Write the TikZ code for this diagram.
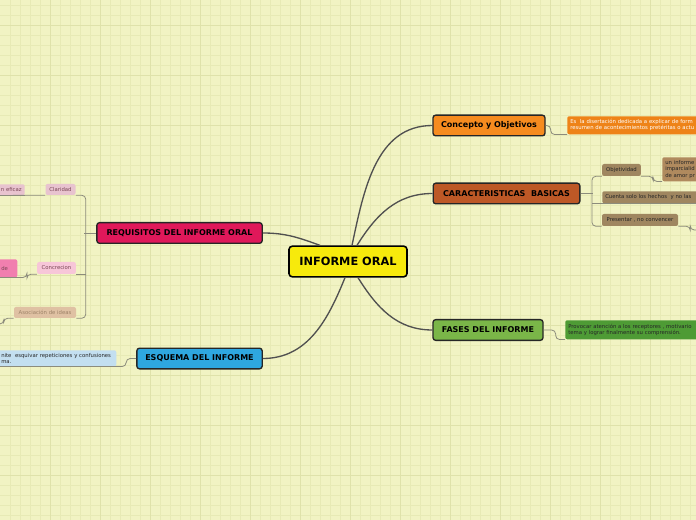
\documentclass[tikz,border=0pt]{standalone}
\usepackage{fontspec}
\setmainfont{DejaVu Sans}
\usepackage{xcolor}
\usepackage{tikz}

\definecolor{paper}{HTML}{F1F3C3}
\definecolor{gridthin}{HTML}{E7EAB5}
\definecolor{gridthick}{HTML}{DFE2AA}
\definecolor{centre}{HTML}{F7EA0C}
\definecolor{orangeA}{HTML}{F68B1F}
\definecolor{orangeB}{HTML}{EE8318}
\definecolor{brownA}{HTML}{BD5826}
\definecolor{tanA}{HTML}{9F8660}
\definecolor{tanB}{HTML}{B08A5E}
\definecolor{greenA}{HTML}{7AB648}
\definecolor{greenB}{HTML}{4E9B35}
\definecolor{crimson}{HTML}{E0185A}
\definecolor{pinkA}{HTML}{E8C3CF}
\definecolor{pinkB}{HTML}{F7C6D8}
\definecolor{pinkC}{HTML}{F17FAF}
\definecolor{sand}{HTML}{DFC1A3}
\definecolor{blueA}{HTML}{2EA7E0}
\definecolor{blueB}{HTML}{C3DFF0}
\definecolor{linkgray}{HTML}{505050}
\definecolor{twiggray}{HTML}{8C8C7C}
\definecolor{mauve}{HTML}{7A4656}

\begin{document}
\begin{tikzpicture}[x=0.75pt,y=-0.75pt,
  root/.style={draw=black, line width=1.2pt, rounded corners=2.5pt, fill=centre,
    font=\bfseries\fontsize{8.5}{10}\selectfont, inner sep=0pt,
    minimum width=88.5pt, minimum height=23pt},
  topic/.style={draw=black!85, line width=1pt, rounded corners=2pt,
    font=\bfseries\fontsize{6}{7}\selectfont, inner sep=0pt, minimum height=15.5pt},
  leaf/.style={rounded corners=1.5pt, inner xsep=2.25pt, inner ysep=0pt,
    font=\fontsize{4}{4.7}\selectfont, align=left},
  link/.style={draw=linkgray, line width=1pt},
  twig/.style={draw=twiggray, line width=0.6pt, rounded corners=3pt}]

\useasboundingbox (0,0) rectangle (696,520);
\clip (0,0) rectangle (696,520);

% paper and grid
\fill[paper] (0,0) rectangle (696,520);
\foreach \x in {10,20,...,690} \draw[gridthin, line width=0.35pt] (\x,0) -- (\x,520);
\foreach \y in {5,15,...,515} \draw[gridthin, line width=0.35pt] (0,\y) -- (696,\y);
\foreach \x in {50,100,...,650} \draw[gridthick, line width=0.5pt] (\x,0) -- (\x,520);
\foreach \y in {25,75,...,525} \draw[gridthick, line width=0.5pt] (0,\y) -- (696,\y);

% centre and main topics
\node[root] (c) at (348,261.5) {INFORME ORAL};
\node[topic, fill=orangeA, minimum width=84pt] (con) at (489,125.5) {Concepto y Objetivos};
\node[topic, fill=brownA, minimum width=110pt] (car) at (506.5,193.5) {CARACTERISTICAS\ \ BASICAS};
\node[topic, fill=greenA, minimum width=82.5pt] (fas) at (488,330) {FASES DEL INFORME};
\node[topic, fill=crimson, minimum width=124pt] (req) at (179.5,233) {REQUISITOS DEL INFORME ORAL};
\node[topic, fill=blueA, minimum width=94pt] (esq) at (199.5,358.5) {ESQUEMA DEL INFORME};

% leaves on the right
\node[leaf, fill=orangeB, text=white, anchor=north west, text width=160pt, minimum height=13.5pt] (def) at (567,116)
  {Es\ \ la disertación dedicada a explicar de form\\resumen de acontecimientos pretéritas o actu};
\node[leaf, fill=tanA, text=black!85, minimum width=29pt, minimum height=9pt, align=center] (obj) at (621.5,170) {Objetividad};
\node[leaf, fill=tanB, text=black!85, anchor=north west, text width=60pt, minimum height=18pt] (inf) at (662,157)
  {un informe\\imparcialid\\de amor pr};
\node[leaf, fill=tanA, text=black!85, anchor=north west, text width=100pt, minimum height=9pt] (cue) at (602,191)
  {Cuenta solo los hechos\ \ y no las};
\node[leaf, fill=tanA, text=black!85, minimum width=57pt, minimum height=9pt, align=center] (pre) at (640,220) {Presentar , no convencer};
\node[leaf, fill=greenB, text=black!85, anchor=north west, text width=160pt, minimum height=14.25pt] (pro) at (565,320)
  {Provocar atención a los receptores , motivario\\tema y lograr finalmente su comprensión.};

% leaves on the left
\node[leaf, fill=pinkA, text=mauve, minimum width=22.5pt, minimum height=8.25pt, align=center] (cla) at (60.5,189.5) {Claridad};
\node[leaf, fill=pinkA, text=mauve, anchor=north east, text width=28pt, align=right, minimum height=8.25pt] (efi) at (25,184) {n eficaz};
\node[leaf, fill=pinkB, text=mauve, minimum width=29pt, minimum height=9pt, align=center] (conc) at (56.5,268) {Concrecion};
\node[leaf, fill=pinkC, text=mauve, anchor=north west, text width=9.75pt, minimum height=13.5pt] (de) at (-2,259) {de};
\node[leaf, fill=sand, text=brown!60!black!70, minimum width=46.5pt, minimum height=8.25pt, align=center] (aso) at (45,312.5) {Asociación de ideas};
\node[leaf, fill=blueB, text=black!85, anchor=north west, text width=84pt, minimum height=12pt] (esc) at (-2,350)
  {nite\ \ esquivar repeticiones y confusiones\\ma.};

\coordinate (pre-off) at (700,230);
\coordinate (aso-off) at (-5,324);

% main links
\draw[link] ([xshift=3pt]c.north) to[out=78,in=180] (con.west);
\draw[link] ([xshift=6.75pt]c.north) to[out=58,in=180] (car.west);
\draw[link] ([xshift=7.5pt]c.south) to[out=-58,in=180] (fas.west);
\draw[link] ([xshift=-21pt]c.north) to[out=160,in=0] (req.east);
\draw[link] ([xshift=-2.25pt]c.south) to[out=-112,in=0] (esq.east);

% small connectors
\draw[twig] (con.east) -- ++(5,0) |- (def.south west);
\draw[twig] (car.east) -- ++(12,0);
\draw[twig] (obj.south west) -- ++(-10,0) |- (pre.south west);
\draw[twig] (cue.south west) -- ++(-10,0);
\draw[twig] (cue.south west) -- (cue.south east);
\draw[twig] (obj.south east) -- ++(12,0) |- (inf.south west);
\draw[twig] (pre.south east) -- ++(12,0) |- (pre-off);
\draw[twig] (fas.east) -- ++(12,0) |- (pro.south west);
\draw[twig] (req.west) -- ++(-12,0);
\draw[twig] (cla.south east) -- ++(10,0) |- (aso.south east);
\draw[twig] (conc.south east) -- ++(10,0);
\draw[twig] (cla.south west) -- (efi.south west);
\draw[twig] (conc.south west) -- ++(-10,0) |- (de.south west);
\draw[twig] (aso.south west) -- ++(-10,0) |- (aso-off);
\draw[twig] (esq.west) -- ++(-10,0) |- (esc.south west);
\end{tikzpicture}
\end{document}
